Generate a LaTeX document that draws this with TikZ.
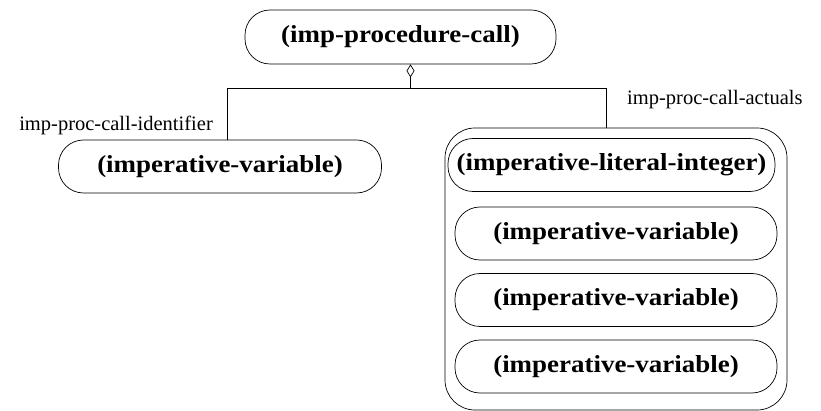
\documentclass[tikz,border=0pt]{standalone}
\usepackage{fontspec}
\setmainfont{Liberation Serif}
\newfontfamily\objfont[FakeStretch=1.1]{Liberation Serif}
\usetikzlibrary{arrows.meta,positioning,calc}

\tikzset{
  objbox/.style={draw, line width=0.7pt, rounded corners=25pt, minimum width=322pt, minimum height=53pt, inner sep=0pt, font=\objfont\fontsize{24.5}{28}\selectfont\bfseries},
  rolelabel/.style={inner sep=0pt, font=\fontsize{20.5}{24}\selectfont},
  link/.style={line width=0.7pt}
}

\begin{document}
\begin{tikzpicture}[x=1pt, y=-1pt]
    \useasboundingbox (0,0) rectangle (821,411);

    % Root
    \node[objbox, minimum width=311pt, minimum height=54pt] (call) at (400.5,37) {(imp-procedure-call)};

    % Identifier
    \node[objbox, minimum width=323pt] (ident) at (220,166.5) {(imperative-variable)};
    \node[rolelabel, anchor=east] (identlbl) at (213,125) {imp-proc-call-identifier};

    % Actuals
    \node[draw, line width=0.7pt, rounded corners=30pt, minimum width=342pt, minimum height=282pt] (actuals) at (616,269) {};
    \node[rolelabel, anchor=west] (actlbl) at (627,100) {imp-proc-call-actuals};
    \node[objbox, minimum width=327pt] (a1) at (611.5,165) {(imperative-literal-integer)};
    \node[objbox] (a2) at (616,233.5) {(imperative-variable)};
    \node[objbox] (a3) at (616,300) {(imperative-variable)};
    \node[objbox] (a4) at (616,366.5) {(imperative-variable)};

    % Links
    \draw[link, {Diamond[open, length=13pt, width=8pt]}-] ([xshift=10pt]call.south) -- ++(0,24) coordinate (fork);
    \draw[link] (fork) -| ([xshift=7pt]ident.north);
    \draw[link] (fork) -| ([xshift=-10pt]actuals.north);
\end{tikzpicture}
\end{document}
